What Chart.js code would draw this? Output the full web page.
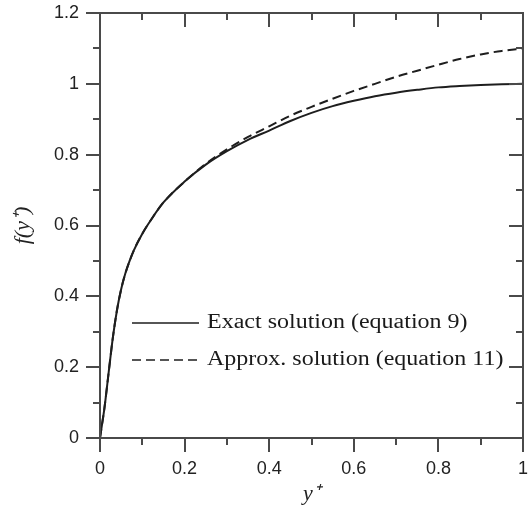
<!DOCTYPE html>
<html>
<head>
<meta charset="utf-8">
<script src="https://cdn.jsdelivr.net/npm/chart.js@4.4.1/dist/chart.umd.min.js"></script>
<style>
    html, body { margin: 0; padding: 0; background: #fff; }
    #wrap { width: 530px; height: 511px; }
</style>
</head>
<body>
<div id="wrap"><canvas id="chartF" width="530" height="511"></canvas></div>
<script>
/* ============================ Data  ============================ */
const yPlus = [0, 0.005, 0.01, 0.02, 0.03, 0.04, 0.05, 0.06, 0.07, 0.08, 0.1, 0.12, 0.15, 0.2, 0.25,
    0.3, 0.35, 0.4, 0.45, 0.5, 0.55, 0.6, 0.65, 0.7, 0.75, 0.8, 0.85, 0.9, 0.95, 1.0];
const exactF = [0, 0.04, 0.08, 0.18, 0.28, 0.36, 0.42, 0.465, 0.5, 0.53, 0.577, 0.615, 0.665, 0.724, 0.772,
    0.81, 0.842, 0.868, 0.895, 0.918, 0.937, 0.952, 0.965, 0.975, 0.983, 0.99, 0.994, 0.997, 0.999, 1.0];
const approxF = [0, 0.04, 0.08, 0.18, 0.28, 0.36, 0.42, 0.465, 0.5, 0.53, 0.577, 0.615, 0.665, 0.724, 0.774,
    0.815, 0.85, 0.88, 0.91, 0.935, 0.958, 0.98, 1.0, 1.02, 1.037, 1.054, 1.07, 1.083, 1.093, 1.1];

const xMajor = [0, 0.2, 0.4, 0.6, 0.8, 1];
const xMinor = [0.1, 0.3, 0.5, 0.7, 0.9];
const yMajor = [0, 0.2, 0.4, 0.6, 0.8, 1, 1.2];
const yMinor = [0.1, 0.3, 0.5, 0.7, 0.9, 1.1];
const xTickLabels = ["0", "0.2", "0.4", "0.6", "0.8", "1"];
const yTickLabels = ["0", "0.2", "0.4", "0.6", "0.8", "1", "1.2"];

const axisColor = "#4a4a4a";
const lineColor = "#1e1e1e";

/* ============================ Frame + ticks  ============================ */
const frameTicks = {
    id: "frameTicks",
    afterDatasetsDraw(chart) {
        const { ctx, chartArea: a, scales: { x, y } } = chart;
        ctx.save();
        ctx.strokeStyle = axisColor;
        ctx.lineWidth = 2;
        ctx.strokeRect(a.left, a.top, a.right - a.left, a.bottom - a.top);
        ctx.beginPath();
        const xt = (vals, len) => vals.forEach((v) => {
            const px = Math.round(x.getPixelForValue(v));
            ctx.moveTo(px, a.bottom); ctx.lineTo(px, a.bottom + len);
            ctx.moveTo(px, a.top); ctx.lineTo(px, a.top + len);
        });
        const yt = (vals, len) => vals.forEach((v) => {
            const py = Math.round(y.getPixelForValue(v));
            ctx.moveTo(a.left - len, py); ctx.lineTo(a.left, py);
            ctx.moveTo(a.right - len, py); ctx.lineTo(a.right, py);
        });
        xt(xMajor, 14); xt(xMinor, 7);
        yt(yMajor, 14); yt(yMinor, 7);
        ctx.stroke();
        ctx.restore();
    },
    afterDraw(chart) {
        // legend inside the plot (serif, stretched a bit like the TeX font)
        const { ctx } = chart;
        const rows = [323, 360];
        ctx.save();
        ctx.font = '20px "Liberation Serif", serif';
        ctx.textBaseline = "middle";
        chart.data.datasets.forEach((ds, i) => {
            const yy = rows[i];
            ctx.strokeStyle = ds.borderColor;
            ctx.lineWidth = 1.6;
            ctx.setLineDash(ds.borderDash || []);
            ctx.beginPath();
            ctx.moveTo(132, yy); ctx.lineTo(199, yy);
            ctx.stroke();
            ctx.setLineDash([]);
            ctx.fillStyle = "#1a1a1a";
            ctx.save();
            ctx.translate(207, yy);
            ctx.scale(1.2, 1);
            ctx.fillText(ds.label, 0, 0);
            ctx.restore();
        });
        ctx.restore();
    },
};

/* ============================ Chart  ============================ */
const chartF = new Chart(document.getElementById("chartF"), {
    type: "line",
    data: {
        datasets: [
            {
                label: "Exact solution (equation 9)",
                data: yPlus.map((v, i) => ({ x: v, y: exactF[i] })),
                borderColor: lineColor,
                borderWidth: 2,
                pointRadius: 0,
                cubicInterpolationMode: "monotone",
            },
            {
                label: "Approx. solution (equation 11)",
                data: yPlus.map((v, i) => ({ x: v, y: approxF[i] })),
                borderColor: lineColor,
                borderWidth: 2,
                borderDash: [9, 5],
                pointRadius: 0,
                cubicInterpolationMode: "monotone",
            },
        ],
    },
    options: {
        responsive: false,
        animation: false,
        devicePixelRatio: 1,
        layout: { padding: { left: 0, top: 13, right: 7, bottom: 0 } },
        plugins: { legend: { display: false }, tooltip: { enabled: false } },
        scales: {
            x: {
                type: "linear",
                min: 0,
                max: 1,
                afterBuildTicks: (s) => { s.ticks = xMajor.map((v) => ({ value: v })); },
                afterFit: (s) => { s.height = 73; s.paddingLeft = 0; s.paddingRight = 0; },
                grid: { display: false, drawTicks: false },
                border: { display: false },
                ticks: {
                    padding: 20,
                    color: "#222",
                    font: { family: "Liberation Sans", size: 18 },
                    callback: (v, i) => xTickLabels[i],
                },
                title: {
                    display: true,
                    text: "y⁺",
                    color: "#222",
                    font: { family: "Liberation Serif", size: 22, style: "italic" },
                    padding: { top: 0, bottom: 4 },
                },
            },
            y: {
                type: "linear",
                min: 0,
                max: 1.2,
                afterBuildTicks: (s) => { s.ticks = yMajor.map((v) => ({ value: v })); },
                afterFit: (s) => { s.width = 100; s.paddingTop = 0; s.paddingBottom = 0; },
                grid: { display: false, drawTicks: false },
                border: { display: false },
                ticks: {
                    padding: 21,
                    color: "#222",
                    font: { family: "Liberation Sans", size: 18 },
                    callback: (v, i) => yTickLabels[i],
                },
                title: {
                    display: true,
                    text: "f(y⁺)",
                    color: "#222",
                    font: { family: "Liberation Serif", size: 22, style: "italic" },
                    padding: { top: 10, bottom: 0 },
                },
            },
        },
    },
    plugins: [frameTicks],
});
</script>
</body>
</html>
